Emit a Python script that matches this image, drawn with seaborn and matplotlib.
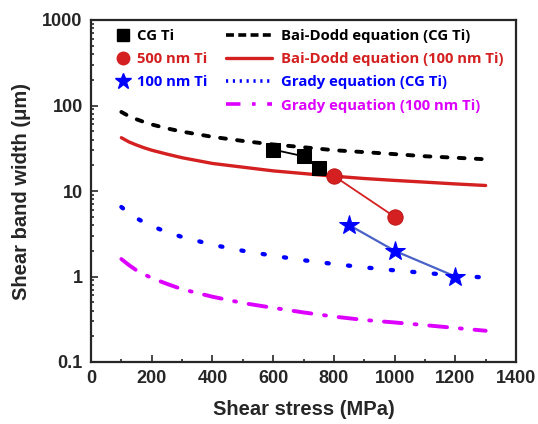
import matplotlib
matplotlib.use("Agg")
import matplotlib.pyplot as plt
from matplotlib.lines import Line2D
from matplotlib.ticker import LogLocator, MultipleLocator, FixedLocator, FixedFormatter
import seaborn as sns
import numpy as np

# ---- data ----
stress_eq = [100, 125, 150, 175, 200, 250, 300, 400, 500, 600, 700, 800, 900, 1000, 1100, 1200, 1300]
bai_dodd_cg = [84, 75, 69, 64, 60, 54, 49.5, 43, 38.5, 35, 32.5, 30, 28.5, 27, 25.5, 24.5, 23.5]
bai_dodd_100 = [42, 37.5, 34.5, 32, 30, 27, 24.5, 21, 19, 17.2, 16, 14.9, 14, 13.3, 12.7, 12.1, 11.6]
grady_cg = [6.5, 5.5, 4.8, 4.3, 3.9, 3.3, 2.9, 2.35, 2.0, 1.75, 1.55, 1.4, 1.28, 1.18, 1.1, 1.03, 0.97]
grady_100 = [1.6, 1.36, 1.18, 1.06, 0.96, 0.82, 0.71, 0.58, 0.49, 0.43, 0.38, 0.34, 0.31, 0.29, 0.27, 0.25, 0.232]

cg_stress = [600, 700, 750]
cg_width = [30.5, 25.5, 18.5]
nm500_stress = [800, 1000]
nm500_width = [15.0, 5.0]
nm100_stress = [850, 1000, 1200]
nm100_width = [4.0, 2.0, 1.0]

x_ticks = [0, 200, 400, 600, 800, 1000, 1200, 1400]
y_ticks = [0.1, 1, 10, 100, 1000]
y_tick_labels = ["0.1", "1", "10", "100", "1000"]

# ---- style ----
sns.set_style("ticks")
plt.rcParams["font.family"] = ["Liberation Sans", "DejaVu Sans"]

BLACK = "#000000"
RED = "#d42020"
BLUE = "#0000ff"
MAGENTA = "#dd00ff"
STEEL = "#4a62c8"

fig = plt.figure(figsize=(5.38, 4.24), dpi=100)
ax = fig.add_axes([91 / 538, 62 / 424, 425 / 538, 342 / 424])

sns.lineplot(x=stress_eq, y=bai_dodd_cg, ax=ax, color=BLACK)
ln = ax.lines[-1]
ln.set_linewidth(2.8)
ln.set_dashes((1.5, 2.9))
ln.set_dash_capstyle("round")

sns.lineplot(x=stress_eq, y=bai_dodd_100, ax=ax, color=RED)
ax.lines[-1].set_linewidth(2.4)

sns.lineplot(x=stress_eq, y=grady_cg, ax=ax, color=BLUE)
ln = ax.lines[-1]
ln.set_linewidth(3.1)
ln.set_dashes((0.5, 4.5))
ln.set_dash_capstyle("round")

sns.lineplot(x=stress_eq, y=grady_100, ax=ax, color=MAGENTA)
ln = ax.lines[-1]
ln.set_linewidth(2.8)
ln.set_dashes((4.6, 3.3, 0.5, 3.3))
ln.set_dash_capstyle("round")

sns.lineplot(x=cg_stress, y=cg_width, ax=ax, color=BLACK, lw=1.3,
             marker="s", markersize=10, markeredgecolor=BLACK, markerfacecolor=BLACK)
sns.lineplot(x=nm500_stress, y=nm500_width, ax=ax, color=RED, lw=1.3,
             marker="o", markersize=11, markeredgecolor="#c01818", markerfacecolor=RED)
sns.lineplot(x=nm100_stress, y=nm100_width, ax=ax, color=STEEL, lw=1.6,
             marker="*", markersize=15, markeredgecolor=BLUE, markerfacecolor=BLUE)

ax.set_yscale("log")
ax.set_xlim(0, 1400)
ax.set_ylim(0.1, 1000)

ax.xaxis.set_major_locator(FixedLocator(x_ticks))
ax.xaxis.set_minor_locator(MultipleLocator(100))
ax.yaxis.set_major_locator(FixedLocator(y_ticks))
ax.yaxis.set_major_formatter(FixedFormatter(y_tick_labels))
ax.yaxis.set_minor_locator(LogLocator(base=10, subs=np.arange(2, 10)))

ax.tick_params(which="both", direction="in", top=False, right=False, width=1.2,
               labelsize=13)
ax.tick_params(which="major", length=5, pad=6)
ax.tick_params(which="minor", length=2.5)
for lab in ax.get_xticklabels() + ax.get_yticklabels():
    lab.set_fontweight("bold")
for sp in ax.spines.values():
    sp.set_visible(True)
    sp.set_linewidth(1.6)

ax.set_xlabel("Shear stress (MPa)", fontsize=14.5, fontweight="bold", labelpad=9)
ax.set_ylabel("Shear band width (μm)", fontsize=14.5, fontweight="bold", labelpad=8)

# ---- legends ----
leg_font = {"family": ["Open Sans", "DejaVu Sans"], "weight": "bold", "size": 10.7}
h1 = [
    Line2D([], [], linestyle="none", marker="s", markersize=8, color=BLACK),
    Line2D([], [], linestyle="none", marker="o", markersize=9, color=RED),
    Line2D([], [], linestyle="none", marker="*", markersize=12, color=BLUE),
]
l1 = ["CG Ti", "500 nm Ti", "100 nm Ti"]
c1 = [BLACK, RED, BLUE]
leg1 = ax.legend(h1, l1, loc="upper left", bbox_to_anchor=(0.059, 0.974),
                 frameon=False, borderpad=0, borderaxespad=0, handlelength=0.95,
                 handletextpad=0.45, labelspacing=0.6, prop=leg_font)
for t, c in zip(leg1.get_texts(), c1):
    t.set_color(c)
ax.add_artist(leg1)

h2 = [
    Line2D([], [], color=BLACK, lw=2.6, linestyle=(0, (2.2, 1.2))),
    Line2D([], [], color=RED, lw=2.4),
    Line2D([], [], color=BLUE, lw=2.6, linestyle=(0, (0.6, 1.3))),
    Line2D([], [], color=MAGENTA, lw=2.6, linestyle=(0, (4.0, 3.2, 1.0, 3.2))),
]
l2 = ["Bai-Dodd equation (CG Ti)", "Bai-Dodd equation (100 nm Ti)",
      "Grady equation (CG Ti)", "Grady equation (100 nm Ti)"]
c2 = [BLACK, RED, BLUE, MAGENTA]
leg2 = ax.legend(h2, l2, loc="upper left", bbox_to_anchor=(0.318, 0.974),
                 frameon=False, borderpad=0, borderaxespad=0, handlelength=3.1,
                 handletextpad=0.62, labelspacing=0.62, prop=leg_font)
for t, c in zip(leg2.get_texts(), c2):
    t.set_color(c)

fig.savefig("out.png", dpi=100, facecolor="white")
